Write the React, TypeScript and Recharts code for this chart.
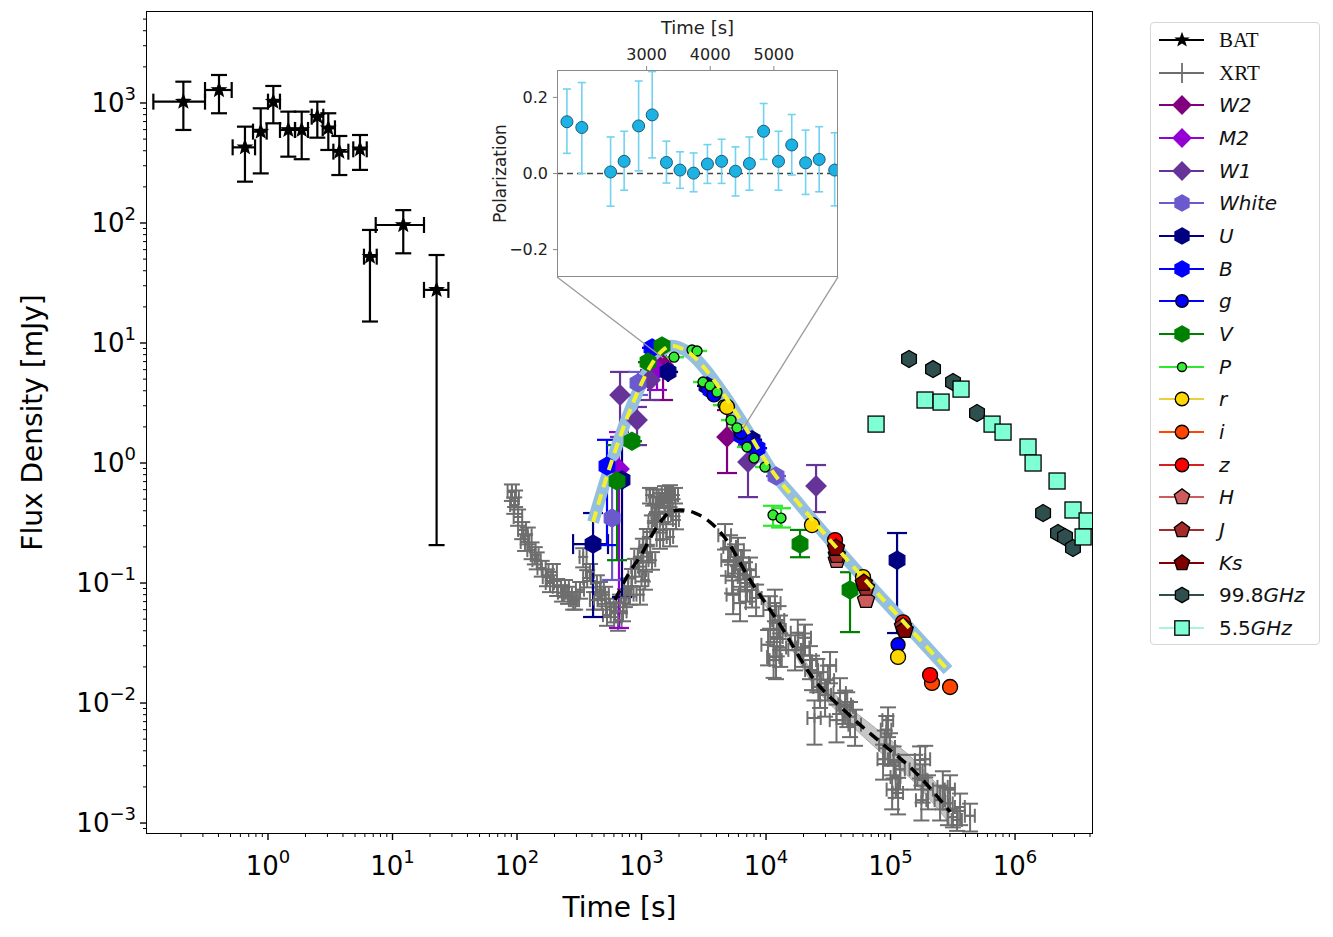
import React from 'react';
import {
  ComposedChart,
  ScatterChart,
  Scatter,
  Line,
  Area,
  XAxis,
  YAxis,
  ErrorBar,
  ReferenceLine,
} from 'recharts';

// ---- main plot data (t in s, flux in mJy) ----
// BAT: [t, tLo, tHi, f, fLo, fHi]
const batPoints = [
  [0.209, 0.12, 0.312, 1026, 596, 1505],
  [0.404, 0.312, 0.511, 1283, 821, 1711],
  [0.653, 0.52, 0.787, 427, 221, 635],
  [0.874, 0.758, 0.976, 577, 259, 903],
  [1.103, 1.0, 1.248, 1026, 677, 1386],
  [1.456, 1.248, 1.648, 596, 357, 847],
  [1.865, 1.648, 2.095, 596, 340, 847],
  [2.489, 2.244, 2.78, 769, 514, 1026],
  [3.05, 2.75, 3.45, 615, 406, 821],
  [3.74, 3.35, 4.42, 393, 251, 531],
  [5.48, 4.84, 6.21, 411, 277, 541],
  [6.59, 5.9, 7.47, 52.4, 15.1, 87.5],
  [12.2, 7.33, 17.9, 96.2, 55.9, 128],
  [22.6, 17.9, 28.1, 27.7, 0.207, 54.1],
];

// XRT: [t, f, dt, df]
const xrtPoints = [
  // early steep decay
  [91, 0.573, 7, 0.09], [95, 0.447, 7, 0.07], [96.5, 0.51, 7, 0.08], [102, 0.355, 8, 0.055],
  [110, 0.277, 8, 0.045], [116, 0.22, 9, 0.035], [122, 0.25, 9, 0.04], [131, 0.188, 10, 0.03],
  [139, 0.171, 10, 0.028], [144, 0.155, 11, 0.025], [158, 0.133, 12, 0.02], [174, 0.112, 13, 0.018],
  [184, 0.1, 14, 0.016], [194, 0.124, 15, 0.02], [210, 0.093, 16, 0.015], [230, 0.083, 17, 0.013],
  [243, 0.091, 18, 0.015], [257, 0.08, 19, 0.013], [282, 0.072, 21, 0.012], [293, 0.072, 22, 0.012],
  [321, 0.088, 24, 0.014], [340, 0.165, 22, 0.03], [366, 0.11, 26, 0.018], [386, 0.124, 28, 0.02],
  [415, 0.072, 30, 0.012], [438, 0.1, 32, 0.016], [464, 0.088, 34, 0.014], [480, 0.072, 35, 0.012],
  [510, 0.08, 36, 0.013], [528, 0.054, 38, 0.01], [558, 0.063, 40, 0.011], [612, 0.058, 42, 0.011],
  [647, 0.049, 44, 0.009], [672, 0.068, 45, 0.012], [710, 0.058, 48, 0.01], [736, 0.076, 50, 0.013],
  [777, 0.093, 52, 0.016], [809, 0.08, 54, 0.014], [838, 0.112, 55, 0.019], [885, 0.136, 58, 0.023],
  [934, 0.165, 60, 0.028], [973, 0.08, 62, 0.014], [1025, 0.2, 65, 0.034], [1067, 0.106, 68, 0.018],
  // rise to the x-ray peak
  [1104, 0.242, 70, 0.04], [1170, 0.54, 75, 0.08], [1210, 0.316, 75, 0.05], [1214, 0.155, 75, 0.026],
  [1281, 0.39, 80, 0.06], [1307, 0.447, 80, 0.07], [1408, 0.492, 85, 0.07], [1408, 0.228, 85, 0.035],
  [1461, 0.521, 88, 0.08], [1544, 0.562, 90, 0.08], [1633, 0.369, 95, 0.06], [1694, 0.573, 100, 0.08],
  [1240, 0.521, 80, 0.08], [1620, 0.464, 95, 0.07], [1775, 0.43, 100, 0.07], [1858, 0.54, 105, 0.08],
  [1892, 0.335, 105, 0.055], [1330, 0.335, 80, 0.055], [1490, 0.277, 90, 0.045], [1694, 0.242, 100, 0.04],
  [1104, 0.178, 70, 0.03], [1025, 0.128, 65, 0.025],
  // decay segments
  [4688, 0.25, 550, 0.06], [4955, 0.155, 580, 0.04], [5140, 0.2, 600, 0.05], [5440, 0.08, 620, 0.025],
  [5636, 0.165, 650, 0.045], [5957, 0.188, 680, 0.05], [6184, 0.128, 700, 0.035], [6535, 0.147, 750, 0.04],
  [6780, 0.117, 780, 0.032], [7036, 0.1, 800, 0.03], [7440, 0.128, 850, 0.035], [7725, 0.0875, 850, 0.025],
  [8320, 0.075, 900, 0.022], [6184, 0.068, 700, 0.02], [5333, 0.112, 600, 0.03],
  [10380, 0.0306, 1200, 0.01], [10770, 0.0596, 1250, 0.018], [11780, 0.068, 1300, 0.02],
  [12600, 0.0492, 1400, 0.015], [12950, 0.0406, 1450, 0.013], [12200, 0.0355, 1400, 0.011],
  [13000, 0.029, 1500, 0.009], [11500, 0.0242, 1300, 0.008], [12030, 0.0228, 1350, 0.007],
  [17100, 0.0277, 2000, 0.009], [18000, 0.0385, 2200, 0.011], [19900, 0.029, 2400, 0.009],
  [20560, 0.035, 2400, 0.01], [22560, 0.0228, 2700, 0.007], [23400, 0.0188, 2800, 0.006],
  [25800, 0.0178, 3000, 0.0055], [27150, 0.0136, 3200, 0.0045], [24500, 0.0075, 3000, 0.003],
  [29800, 0.0117, 3500, 0.004], [31400, 0.0155, 3800, 0.005], [32660, 0.0206, 3900, 0.006],
  [36800, 0.0072, 4300, 0.0025], [39300, 0.0121, 4500, 0.004], [43150, 0.0097, 5000, 0.003],
  [44900, 0.0093, 5000, 0.003], [47280, 0.0077, 5500, 0.0025], [51880, 0.0066, 6000, 0.0022],
  [87100, 0.0034, 8500, 0.0011], [90000, 0.0045, 9000, 0.0014], [92500, 0.006, 9000, 0.0018],
  [95500, 0.0072, 9500, 0.002], [99090, 0.0043, 9500, 0.0013], [103000, 0.0019, 10000, 0.0006],
  [105800, 0.00335, 10000, 0.001], [110000, 0.00242, 10000, 0.0008], [115000, 0.00178, 11000, 0.0006],
  [119200, 0.0028, 11000, 0.0009],
  [157300, 0.0028, 15000, 0.0009], [172600, 0.00335, 16000, 0.001], [177000, 0.00155, 17000, 0.0005],
  [181000, 0.00228, 17000, 0.0008], [190000, 0.0034, 18000, 0.001], [200000, 0.0019, 19000, 0.0006],
  [249900, 0.00155, 24000, 0.0005], [263000, 0.002, 25000, 0.0007], [289000, 0.00146, 27000, 0.0005],
  [300700, 0.0019, 28000, 0.0006], [317000, 0.00112, 30000, 0.0002], [342000, 0.00106, 32000, 0.0002],
  [362000, 0.00136, 33000, 0.0004], [435300, 0.00115, 40000, 0.0003],
];

// optical / radio bands: [t, f, fLo?, fHi?, tLo?, tHi?]
const w2Points = [[1489, 6.56, 3.35, 8.74], [4861, 1.65, 0.825, 2.76]];
const m2Points = [[659, 0.891, 0.0422, 1.81], [1331, 5.96, 4.06, 7.94]];
const w1Points = [
  [672, 3.69, 1.65, 5.74], [920, 2.28, 1.41, 2.93], [1170, 4.92, 3.35, 5.96],
  [7164, 1.02, 0.52, 1.41], [25220, 0.643, 0.39, 0.962],
];
const whitePoints = [[580, 0.348, 0.106, 0.75], [937, 4.64, 3.69, 5.74], [12030, 0.779]];
const uPoints = [
  [408, 0.211, 0.0521, 0.383, 282, 538], [697, 0.722, 0.0764, 1.56], [1633, 5.74], [3358, 4.39],
  [7725, 1.56], [112800, 0.155, 0.0383, 0.261],
];
const bPoints = [[528, 0.944, 0.207, 1.56], [1214, 9.1], [3617, 4.06], [6413, 1.68], [8467, 1.33]];
const gPoints = [[3823, 3.69], [6300, 1.81], [114900, 0.0306]];
const vPoints = [
  [636, 0.708, 0.155, 1.41], [838, 1.52], [1128, 6.93], [1461, 9.45],
  [18750, 0.211, 0.164, 0.277], [47280, 0.0875, 0.039, 0.123],
];
const pPoints = [
  [1824, 7.62], [2545, 8.74], [2792, 8.58], [3118, 4.73], [3550, 4.39], [4039, 3.9], [4518, 3.04],
  [5236, 2.28], [5848, 1.96], [7036, 1.36], [8011, 1.1], [9817, 0.926],
  [11380, 0.369, 0.3, 0.44], [13190, 0.348, 0.29, 0.42],
];
const rPoints = [[4861, 2.93], [23400, 0.304], [60130, 0.112], [114900, 0.0242]];
const iPoints = [[215400, 0.0147], [300700, 0.0136]];
const zPoints = [[35840, 0.228], [125900, 0.047], [207700, 0.0171]];
const hPoints = [[37000, 0.155], [63550, 0.0722]];
const jPoints = [[37000, 0.171], [63550, 0.0912], [125900, 0.0434]];
const ksPoints = [[36500, 0.196], [61000, 0.1], [130000, 0.0406]];
const radio998Points = [
  [140800, 7.36], [219400, 6.06], [317600, 4.73], [495000, 2.61],
  [1.68e6, 0.383], [2.213e6, 0.261], [2.52e6, 0.242], [2.92e6, 0.196],
];
const radio55Points = [
  [76500, 2.11], [189200, 3.35], [254700, 3.22], [368300, 4.13], [653600, 2.11], [801000, 1.81],
  [1.271e6, 1.36], [1.396e6, 1.0], [2.175e6, 0.708], [2.92e6, 0.406], [3.79e6, 0.329], [3.52e6, 0.242],
];

// model curves: [t, f]
const opticalModel = [
  [408, 0.322], [509, 0.694], [672, 1.65], [887, 3.48], [1170, 6.31], [1489, 8.74], [1750, 9.5],
  [2100, 9.0], [2452, 8.2], [3236, 6.1], [4688, 3.6], [7440, 1.71], [10770, 0.909], [18750, 0.447],
  [47280, 0.147], [119200, 0.0512], [289600, 0.0188],
];
const xrayModel = [
  [612, 0.0722], [779, 0.117], [991, 0.171], [1331, 0.293], [1694, 0.39], [2038, 0.406],
  [2690, 0.383], [3550, 0.322], [4688, 0.237], [7440, 0.106], [12950, 0.045], [23880, 0.0161],
  [44780, 0.00825], [82360, 0.00475], [151700, 0.00277], [300700, 0.00124],
];
// x-ray model band: [t, lo, hi]
const xrayBand = [
  [7440, 0.102, 0.11], [12950, 0.0417, 0.0486], [23880, 0.0143, 0.0181], [44780, 0.00708, 0.00962],
  [82360, 0.00392, 0.00576], [151700, 0.00224, 0.00342], [300700, 0.00098, 0.00156],
];
// inset corners -> zoomed region
const zoomLinks = [
  [[209.6, 35.5], [1489, 7.5]],
  [[37870, 35.5], [6413, 1.88]],
];

// ---- inset (polarization) ----
const insetTime = [1748, 1982, 2434, 2647, 2875, 3088, 3312, 3525, 3738, 3956, 4179, 4397, 4616, 4839, 5073, 5281, 5499, 5712, 5956];
const insetPol = [0.136, 0.121, 0.004, 0.032, 0.125, 0.154, 0.029, 0.009, 0.001, 0.025, 0.032, 0.006, 0.026, 0.111, 0.032, 0.075, 0.028, 0.037, 0.009];
const insetLo = [0.053, 0.0, -0.086, -0.044, 0.007, 0.041, -0.025, -0.039, -0.048, -0.026, -0.026, -0.059, -0.044, 0.037, -0.044, -0.004, -0.055, -0.048, -0.085];
const insetHi = [0.222, 0.239, 0.096, 0.111, 0.243, 0.268, 0.085, 0.057, 0.054, 0.076, 0.09, 0.07, 0.096, 0.184, 0.111, 0.155, 0.114, 0.123, 0.107];

const X_DOMAIN = [0.1067, 4.15e6];
const Y_DOMAIN = [8.26e-4, 5730];

const FONT = 'DejaVu Sans';

function logTicks(lo: number, hi: number) {
  const out: number[] = [];
  for (let e = -5; e <= 7; e++) {
    for (let k = 1; k <= 9; k++) {
      const v = k * Math.pow(10, e);
      if (v >= lo && v <= hi) out.push(v);
    }
  }
  return out;
}
const isMajor = (v: number) => Math.abs(Math.log10(v) - Math.round(Math.log10(v))) < 1e-9;
const expLabel = (v: number) => {
  const e = Math.round(Math.log10(v));
  return e < 0 ? '\u2212' + Math.abs(e) : String(e);
};

const XTick = (props: any) => {
  const { x, y, payload } = props;
  const major = isMajor(payload.value);
  return (
    <g>
      <line x1={x} x2={x} y1={y} y2={y + (major ? 7 : 4)} stroke="#000" strokeWidth={major ? 1.4 : 1} />
      {major && (
        <text x={x} y={y + 42} textAnchor="middle" fontFamily={FONT} fontSize={26} fill="#000">
          10<tspan dy={-12} fontSize={18}>{expLabel(payload.value)}</tspan>
        </text>
      )}
    </g>
  );
};

const YTick = (props: any) => {
  const { x, y, payload } = props;
  const major = isMajor(payload.value);
  return (
    <g>
      <line x1={x - (major ? 7 : 4)} x2={x} y1={y} y2={y} stroke="#000" strokeWidth={major ? 1.4 : 1} />
      {major && (
        <text x={x - 11} y={y + 9} textAnchor="end" fontFamily={FONT} fontSize={26} fill="#000">
          10<tspan dy={-12} fontSize={18}>{expLabel(payload.value)}</tspan>
        </text>
      )}
    </g>
  );
};

type MarkerStyle = { kind: string; fill: string; edge: string; r: number; line?: string };

const STYLE: Record<string, MarkerStyle> = {
  BAT: { kind: 'star', fill: '#000', edge: '#000', r: 7 },
  XRT: { kind: 'plus', fill: '#6e6e6e', edge: '#6e6e6e', r: 5 },
  W2: { kind: 'diamond', fill: '#800080', edge: '#800080', r: 10 },
  M2: { kind: 'diamond', fill: '#9400d3', edge: '#9400d3', r: 10 },
  W1: { kind: 'diamond', fill: '#663399', edge: '#663399', r: 10 },
  White: { kind: 'hex', fill: '#6a5acd', edge: '#6a5acd', r: 9 },
  U: { kind: 'hex', fill: '#000080', edge: '#000080', r: 9 },
  B: { kind: 'hex', fill: '#0000ff', edge: '#0000ff', r: 9 },
  g: { kind: 'circle', fill: '#0000ff', edge: '#000', r: 7 },
  V: { kind: 'hex', fill: '#008000', edge: '#008000', r: 9 },
  P: { kind: 'circle', fill: '#33ee33', edge: '#000', r: 5, line: '#2ee82e' },
  r: { kind: 'circle', fill: '#ffd700', edge: '#000', r: 7.5, line: '#e8d040' },
  i: { kind: 'circle', fill: '#ff4500', edge: '#000', r: 7.5 },
  z: { kind: 'circle', fill: '#ff0000', edge: '#000', r: 7.5, line: '#d42020' },
  H: { kind: 'pent', fill: '#cd5c5c', edge: '#000', r: 9 },
  J: { kind: 'pent', fill: '#a52a2a', edge: '#000', r: 9 },
  Ks: { kind: 'pent', fill: '#800000', edge: '#000', r: 9 },
  '99.8GHz': { kind: 'hex', fill: '#2f4f4f', edge: '#000', r: 8.5 },
  '5.5GHz': { kind: 'square', fill: '#7fffd4', edge: '#000', r: 8, line: '#a8f5dc' },
};

function poly(cx: number, cy: number, r: number, n: number, inner?: number) {
  const pts: string[] = [];
  const total = inner ? n * 2 : n;
  for (let k = 0; k < total; k++) {
    const a = -Math.PI / 2 + (k * 2 * Math.PI) / total;
    const rr = inner && k % 2 === 1 ? inner : r;
    pts.push(`${cx + rr * Math.cos(a)},${cy + rr * Math.sin(a)}`);
  }
  return pts.join(' ');
}

const Marker = ({ s, cx, cy, scale = 1 }: { s: MarkerStyle; cx: number; cy: number; scale?: number }) => {
  if (cx == null || cy == null || isNaN(cx) || isNaN(cy)) return <g />;
  const r = s.r * scale;
  const common = { fill: s.fill, stroke: s.edge, strokeWidth: 1.3 };
  switch (s.kind) {
    case 'star':
      return <polygon points={poly(cx, cy, r, 5, r * 0.42)} {...common} />;
    case 'plus':
      return (
        <g stroke={s.fill} strokeWidth={1.8}>
          <line x1={cx - r} x2={cx + r} y1={cy} y2={cy} />
          <line x1={cx} x2={cx} y1={cy - r} y2={cy + r} />
        </g>
      );
    case 'diamond':
      return <polygon points={poly(cx, cy, r, 4)} {...common} />;
    case 'hex':
      return <polygon points={poly(cx, cy, r, 6)} {...common} />;
    case 'pent':
      return <polygon points={poly(cx, cy, r, 5)} {...common} />;
    case 'square':
      return <rect x={cx - r} y={cy - r} width={2 * r} height={2 * r} {...common} />;
    default:
      return <circle cx={cx} cy={cy} r={r} {...common} />;
  }
};

const rows = (arr: number[][]) =>
  arr.map(([t, f, lo, hi, tlo, thi]) => ({
    t,
    f,
    fErr: lo != null ? [f - lo, hi - f] : [0, 0],
    tErr: tlo != null ? [t - tlo, thi - t] : [0, 0],
  }));

const batData = batPoints.map(([t, tlo, thi, f, flo, fhi]) => ({
  t,
  f,
  tErr: [t - tlo, thi - t],
  fErr: [f - flo, fhi - f],
}));
const xrtData = xrtPoints.map(([t, f, dt, df]) => ({ t, f, tErr: dt, fErr: df }));
const curve = (arr: number[][]) => arr.map(([t, f]) => ({ t, f }));
const bandData = xrayBand.map(([t, lo, hi]) => ({ t, band: [lo, hi] }));

const opticalSeries: [string, number[][], boolean][] = [
  ['W2', w2Points, true],
  ['M2', m2Points, true],
  ['W1', w1Points, true],
  ['White', whitePoints, true],
  ['U', uPoints, true],
  ['B', bPoints, true],
  ['g', gPoints, false],
  ['V', vPoints, true],
  ['P', pPoints, true],
  ['r', rPoints, false],
  ['i', iPoints, false],
  ['z', zPoints, false],
  ['H', hPoints, false],
  ['J', jPoints, false],
  ['Ks', ksPoints, false],
];
const radioSeries: [string, number[][]][] = [
  ['99.8GHz', radio998Points],
  ['5.5GHz', radio55Points],
];

const legendNames = [
  'BAT', 'XRT', 'W2', 'M2', 'W1', 'White', 'U', 'B', 'g', 'V', 'P', 'r', 'i', 'z', 'H', 'J', 'Ks', '99.8GHz', '5.5GHz',
];

const LegendLabel = ({ name }: { name: string }) => {
  if (name === 'BAT' || name === 'XRT')
    return <span style={{ fontFamily: 'Liberation Serif', fontSize: 21 }}>{name}</span>;
  if (name.endsWith('GHz'))
    return (
      <span style={{ fontFamily: FONT, fontSize: 20 }}>
        {name.replace('GHz', '')}
        <i>GHz</i>
      </span>
    );
  return <i style={{ fontFamily: FONT, fontSize: 20 }}>{name}</i>;
};

const LegendBox = () => (
  <div
    style={{
      position: 'absolute',
      left: 1150,
      top: 22,
      width: 170,
      height: 623,
      border: '1px solid #d6d6d6',
      borderRadius: 4,
      boxSizing: 'border-box',
      background: '#fff',
    }}
  >
    {legendNames.map((name, k) => {
      const s = STYLE[name];
      return (
        <div key={name} style={{ position: 'absolute', left: 0, top: 17 + k * 32.67 - 16, height: 32, width: 168 }}>
          <svg width={60} height={32} style={{ position: 'absolute', left: 0, top: 0 }}>
            <line x1={8} x2={53} y1={16} y2={16} stroke={s.line || s.fill} strokeWidth={2} />
            <Marker s={s} cx={31} cy={16} scale={name === 'XRT' ? 2 : 0.9} />
          </svg>
          <div style={{ position: 'absolute', left: 68, top: 0, lineHeight: '32px', color: '#111' }}>
            <LegendLabel name={name} />
          </div>
        </div>
      );
    })}
  </div>
);

const insetData = insetTime.map((t, k) => ({
  t,
  p: insetPol[k],
  pErr: [insetPol[k] - insetLo[k], insetHi[k] - insetPol[k]],
}));

const Inset = () => (
  <div style={{ position: 'absolute', left: 487, top: 14, width: 351, height: 263, background: '#fff' }}>
    <ScatterChart width={351} height={263} margin={{ top: 0, right: 0, bottom: 0, left: 0 }} style={{ overflow: 'visible' }}>
      <XAxis
        type="number"
        dataKey="t"
        orientation="top"
        domain={[1592, 6008]}
        allowDataOverflow
        ticks={[3000, 4000, 5000]}
        interval={0}
        height={56}
        axisLine={false}
        tickLine={{ stroke: '#888' }}
        tickSize={4}
        tickMargin={6}
        tick={{ fontSize: 16, fill: '#222', fontFamily: FONT }}
        label={{ value: 'Time [s]', position: 'insideTop', offset: 7, style: { fontSize: 18, fill: '#222', fontFamily: FONT } }}
      />
      <YAxis
        type="number"
        dataKey="p"
        domain={[-0.272, 0.272]}
        allowDataOverflow
        ticks={[-0.2, 0, 0.2]}
        interval={0}
        width={70}
        axisLine={false}
        tickLine={{ stroke: '#888' }}
        tickSize={4}
        tickMargin={5}
        tick={{ fontSize: 16, fill: '#222', fontFamily: FONT }}
        tickFormatter={(v: number) => (v < 0 ? '\u2212' : '') + Math.abs(v).toFixed(1)}
        label={{
          value: 'Polarization',
          angle: -90,
          position: 'insideLeft',
          offset: 13,
          style: { textAnchor: 'middle', fontSize: 17, fill: '#222', fontFamily: FONT },
        }}
      />
      <ReferenceLine y={0} stroke="#444" strokeDasharray="6 4" strokeWidth={1.5} />
      <Scatter
        data={insetData}
        isAnimationActive={false}
        shape={(p: any) => <circle cx={p.cx} cy={p.cy} r={6} fill="#1cb2e4" stroke="#1e5a74" strokeWidth={1} />}
      >
        <ErrorBar dataKey="pErr" direction="y" width={4} stroke="#72d2f0" strokeWidth={1.6} />
      </Scatter>
    </ScatterChart>
    <div
      style={{
        position: 'absolute',
        left: 70,
        top: 56,
        width: 281,
        height: 207,
        border: '1.3px solid #8a8a8a',
        boxSizing: 'border-box',
        pointerEvents: 'none',
      }}
    />
  </div>
);

export default function App() {
  return (
    <div style={{ position: 'absolute', left: 0, top: 0, width: 1333, height: 937, background: '#fff' }}>
      <ComposedChart width={1333} height={937} margin={{ top: 12, right: 241, bottom: 0, left: 0 }}>
        <XAxis
          type="number"
          dataKey="t"
          scale="log"
          domain={X_DOMAIN}
          allowDataOverflow
          ticks={logTicks(X_DOMAIN[0], X_DOMAIN[1])}
          interval={0}
          height={104}
          axisLine={false}
          tickLine={false}
          tickSize={0}
          tickMargin={0}
          tick={(p: any) => <XTick {...p} />}
          label={{ value: 'Time [s]', position: 'insideBottom', offset: 20, style: { fontSize: 28, fill: '#000', fontFamily: FONT } }}
        />
        <YAxis
          type="number"
          dataKey="f"
          scale="log"
          domain={Y_DOMAIN}
          allowDataOverflow
          ticks={logTicks(Y_DOMAIN[0], Y_DOMAIN[1])}
          interval={0}
          width={147}
          axisLine={false}
          tickLine={false}
          tickSize={0}
          tickMargin={0}
          tick={(p: any) => <YTick {...p} />}
          label={{
            value: 'Flux Density [mJy]',
            angle: -90,
            position: 'insideLeft',
            offset: 32,
            style: { textAnchor: 'middle', fontSize: 28, fill: '#000', fontFamily: FONT },
          }}
        />

        <Area
          data={bandData}
          dataKey="band"
          type="monotone"
          fill="#c6c6c6"
          fillOpacity={1}
          stroke="#a9a9a9"
          strokeWidth={1}
          isAnimationActive={false}
          zIndex={100}
        />

        <Scatter data={batData} isAnimationActive={false} zIndex={600} shape={(p: any) => <Marker s={STYLE.BAT} cx={p.cx} cy={p.cy} />}>
          <ErrorBar dataKey="tErr" direction="x" width={8} stroke="#000" strokeWidth={2.2} />
          <ErrorBar dataKey="fErr" direction="y" width={8} stroke="#000" strokeWidth={2.2} />
        </Scatter>

        <Scatter data={xrtData} isAnimationActive={false} zIndex={600} shape={(p: any) => <Marker s={STYLE.XRT} cx={p.cx} cy={p.cy} />}>
          <ErrorBar dataKey="tErr" direction="x" width={7} stroke="#6e6e6e" strokeWidth={2} />
          <ErrorBar dataKey="fErr" direction="y" width={8} stroke="#6e6e6e" strokeWidth={2} />
        </Scatter>

        <Line
          data={curve(xrayModel)}
          dataKey="f"
          type="monotone"
          stroke="#000"
          strokeWidth={3.5}
          strokeDasharray="11 7"
          dot={false}
          isAnimationActive={false}
          zIndex={610}
        />

        <Line
          data={curve(opticalModel)}
          dataKey="f"
          type="monotone"
          stroke="#95bfe0"
          strokeWidth={12}
          dot={false}
          isAnimationActive={false}
          zIndex={620}
        />

        {opticalSeries.map(([name, pts, hasErr]) => {
          const s = STYLE[name];
          const data = rows(pts);
          const hasTErr = pts.some((p) => p.length > 4);
          return (
            <Scatter
              key={name}
              name={name}
              data={data}
              isAnimationActive={false}
              zIndex={630}
              shape={(p: any) => <Marker s={s} cx={p.cx} cy={p.cy} />}
            >
              {hasErr && <ErrorBar dataKey="fErr" direction="y" width={10} stroke={s.line || s.fill} strokeWidth={2.2} />}
              {hasTErr && <ErrorBar dataKey="tErr" direction="x" width={10} stroke={s.line || s.fill} strokeWidth={2.2} />}
            </Scatter>
          );
        })}

        <Line
          data={curve(opticalModel)}
          dataKey="f"
          type="monotone"
          stroke="#f2f22c"
          strokeWidth={4}
          strokeDasharray="11 7"
          dot={false}
          isAnimationActive={false}
          zIndex={640}
        />

        {radioSeries.map(([name, pts]) => {
          const s = STYLE[name];
          return (
            <Scatter
              key={name}
              name={name}
              data={rows(pts)}
              isAnimationActive={false}
              zIndex={650}
              shape={(p: any) => <Marker s={s} cx={p.cx} cy={p.cy} />}
            />
          );
        })}

        {zoomLinks.map(([a, b], k) => (
          <ReferenceLine
            key={k}
            segment={[{ x: a[0], y: a[1] }, { x: b[0], y: b[1] }]}
            stroke="#9a9a9a"
            strokeWidth={1.3}
            zIndex={660}
          />
        ))}
      </ComposedChart>

      <div
        style={{
          position: 'absolute',
          left: 146,
          top: 11,
          width: 947,
          height: 823,
          border: '1.5px solid #000',
          boxSizing: 'border-box',
          pointerEvents: 'none',
        }}
      />
      <Inset />
      <LegendBox />
    </div>
  );
}
